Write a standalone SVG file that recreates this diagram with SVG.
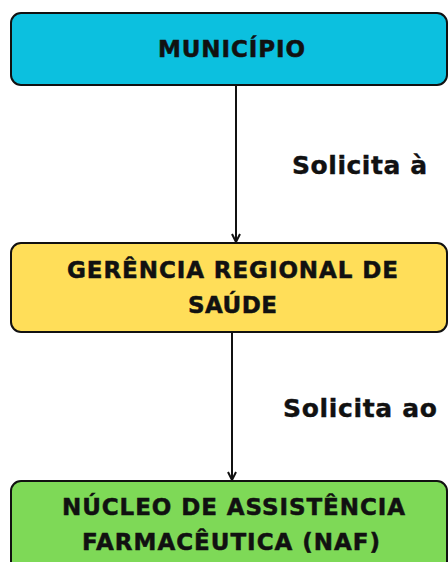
<svg xmlns="http://www.w3.org/2000/svg" width="448" height="562" viewBox="0 0 448 562">
<defs>
<style>
.box{stroke:#111;stroke-width:2}
.t{font-family:"DejaVu Sans","Liberation Sans",sans-serif;font-weight:700;fill:#111;stroke:#111;stroke-width:0.5;font-size:23px}
.lbl{font-family:"DejaVu Sans","Liberation Sans",sans-serif;font-weight:700;fill:#111;stroke:#111;stroke-width:0.4;font-size:25px}
.c{stroke:#111;stroke-width:2;fill:none}
</style>
<marker id="ah" viewBox="0 0 10 10" refX="9" refY="5" markerWidth="5" markerHeight="5" orient="auto" markerUnits="strokeWidth">
<path d="M1,1 L9,5 L1,9" fill="none" stroke="#111" stroke-width="2"/>
</marker>
</defs>
<rect width="448" height="562" fill="#fff"/>
<g id="connectors">
<line class="c" x1="236" y1="85" x2="236" y2="242" marker-end="url(#ah)"/>
<line class="c" x1="232" y1="333" x2="232" y2="480" marker-end="url(#ah)"/>
<text class="lbl" x="292" y="174" textLength="135" lengthAdjust="spacing">Solicita à</text>
<text class="lbl" x="283" y="417" textLength="154" lengthAdjust="spacing">Solicita ao</text>
</g>
<g id="municipio">
<rect class="box" x="11" y="13" width="436" height="72" rx="10" fill="#0CC0DF"/>
<text class="t" x="158" y="57" textLength="147" lengthAdjust="spacing">MUNICÍPIO</text>
</g>
<g id="gerencia">
<rect class="box" x="11" y="243" width="436" height="89" rx="10" fill="#FFDE59"/>
<text class="t" x="67" y="278" textLength="331" lengthAdjust="spacing">GERÊNCIA REGIONAL DE</text>
<text class="t" x="188" y="313" textLength="89" lengthAdjust="spacing">SAÚDE</text>
</g>
<g id="naf">
<rect class="box" x="11" y="481" width="436" height="100" rx="10" fill="#7ED957"/>
<text class="t" x="62" y="515" textLength="343" lengthAdjust="spacing">NÚCLEO DE ASSISTÊNCIA</text>
<text class="t" x="82" y="550" textLength="298" lengthAdjust="spacing">FARMACÊUTICA (NAF)</text>
</g>
</svg>
